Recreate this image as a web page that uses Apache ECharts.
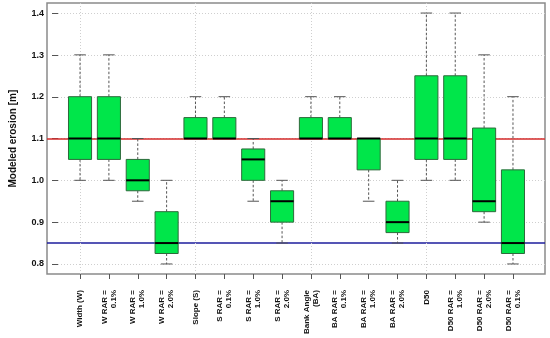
<!DOCTYPE html>
<html>
<head>
<meta charset="utf-8">
<script src="https://cdn.jsdelivr.net/npm/echarts@6/dist/echarts.min.js"></script>
<style>html,body{margin:0;padding:0;background:#fff}#c{width:550px;height:338px}</style>
</head>
<body>
<div id="c"></div>
<script>
const categories = ["Width (W)", "W RAR =\n0.1%", "W RAR =\n1.0%", "W RAR =\n2.0%",
  "Slope (S)", "S RAR =\n0.1%", "S RAR =\n1.0%", "S RAR =\n2.0%",
  "Bank Angle\n(BA)", "BA RAR =\n0.1%", "BA RAR =\n1.0%", "BA RAR =\n2.0%",
  "D50", "D50 RAR =\n1.0%", "D50 RAR =\n2.0%", "D50 RAR =\n0.1%"];
const whiskerLow  = [1.0, 1.0, 0.95, 0.8, 1.1, 1.1, 0.95, 0.85, 1.1, 1.1, 0.95, 0.85, 1.0, 1.0, 0.9, 0.8];
const quartile1   = [1.05, 1.05, 0.975, 0.825, 1.1, 1.1, 1.0, 0.9, 1.1, 1.1, 1.025, 0.875, 1.05, 1.05, 0.925, 0.825];
const medians     = [1.1, 1.1, 1.0, 0.85, 1.1, 1.1, 1.05, 0.95, 1.1, 1.1, 1.1, 0.9, 1.1, 1.1, 0.95, 0.85];
const quartile3   = [1.2, 1.2, 1.05, 0.925, 1.15, 1.15, 1.075, 0.975, 1.15, 1.15, 1.1, 0.95, 1.25, 1.25, 1.125, 1.025];
const whiskerHigh = [1.3, 1.3, 1.1, 1.0, 1.2, 1.2, 1.1, 1.0, 1.2, 1.2, 1.1, 1.0, 1.4, 1.4, 1.3, 1.2];
const redLineValue = 1.1;
const blueLineValue = 0.85;
const gridCategories = ["Width (W)", "Slope (S)", "Bank Angle\n(BA)", "D50"];
const yTickMin = 0.8, yTickMax = 1.4, yTickStep = 0.1;
const yTitle = "Modeled erosion [m]";

const boxData = categories.map((c, i) => [i, whiskerLow[i], quartile1[i], medians[i], quartile3[i], whiskerHigh[i]]);
const pad = (yTickMax - yTickMin) * 0.04;
const yLo = yTickMin - pad, yHi = yTickMax + pad;
const FONT = '"Liberation Sans", Arial, sans-serif';

const chart = echarts.init(document.getElementById('c'), null, {renderer: 'canvas'});
chart.setOption({
  animation: false,
  grid: [
    {left: 47, right: 5, top: 3, bottom: 64, show: true, borderColor: '#8a8a8a', borderWidth: 1.5, backgroundColor: 'transparent'},
    {left: 47, right: 5, top: 13.3, bottom: 74},
    {left: 65.6, right: 22.6, top: 3, bottom: 64}
  ],
  xAxis: [
    {gridIndex: 0, type: 'value', min: 0, max: 1, show: false},
    {gridIndex: 1, type: 'value', min: 0, max: 1, show: false},
    {gridIndex: 2, type: 'category', data: categories,
      axisLine: {show: false},
      axisTick: {show: true, alignWithLabel: true, length: 5, lineStyle: {color: '#555'}},
      axisLabel: {rotate: 90, interval: 0, margin: 16, fontFamily: FONT, fontWeight: 'bold', fontSize: 8, lineHeight: 9, color: '#111'},
      splitLine: {show: false}}
  ],
  yAxis: [
    {gridIndex: 0, type: 'value', min: yLo, max: yHi, show: false},
    {gridIndex: 1, type: 'value', min: yTickMin, max: yTickMax, interval: yTickStep,
      name: yTitle, nameLocation: 'middle', nameRotate: 90, nameGap: 40,
      nameTextStyle: {fontFamily: FONT, fontWeight: 'bold', fontSize: 10, color: '#111'},
      axisLine: {show: false},
      axisTick: {show: true, length: 6, lineStyle: {color: '#555'}},
      axisLabel: {margin: 14, fontFamily: FONT, fontWeight: 'bold', fontSize: 9, color: '#111', formatter: v => v.toFixed(1)},
      splitLine: {show: true, lineStyle: {type: [1, 2], color: '#cfcfcf', width: 1}}},
    {gridIndex: 2, type: 'value', min: yLo, max: yHi, show: false}
  ],
  series: [
    {type: 'line', xAxisIndex: 0, yAxisIndex: 0, data: [], z: 3, silent: true,
      markLine: {symbol: 'none', silent: true, label: {show: false}, animation: false,
        data: [
          {yAxis: redLineValue, lineStyle: {color: '#d42a2a', width: 1.5, type: 'solid'}},
          {yAxis: blueLineValue, lineStyle: {color: '#1c1c9c', width: 1.5, type: 'solid'}}
        ]}},
    {type: 'line', xAxisIndex: 2, yAxisIndex: 2, data: [], z: 1, silent: true,
      markLine: {symbol: 'none', silent: true, label: {show: false}, animation: false,
        lineStyle: {color: '#cfcfcf', width: 1, type: [1, 2]},
        data: gridCategories.map(c => ({xAxis: c}))}},
    {type: 'custom', xAxisIndex: 2, yAxisIndex: 2, z: 5, data: boxData,
      encode: {x: 0, y: [1, 2, 3, 4, 5]},
      renderItem: function (params, api) {
        const x = api.value(0);
        const mn = api.value(1), q1 = api.value(2), md = api.value(3), q3 = api.value(4), mx = api.value(5);
        const pMin = api.coord([x, mn]), pQ1 = api.coord([x, q1]), pMd = api.coord([x, md]), pQ3 = api.coord([x, q3]), pMax = api.coord([x, mx]);
        const bw = api.size([1, 0])[0] * 0.8;
        const cx = pMd[0];
        const capW = bw * 0.5;
        const dash = {stroke: '#555', lineWidth: 1, lineDash: [2.5, 2]};
        const solid = {stroke: '#555', lineWidth: 1};
        return {type: 'group', children: [
          {type: 'line', shape: {x1: cx, y1: pQ3[1], x2: cx, y2: pMax[1]}, style: dash},
          {type: 'line', shape: {x1: cx, y1: pQ1[1], x2: cx, y2: pMin[1]}, style: dash},
          {type: 'line', shape: {x1: cx - capW / 2, y1: pMax[1], x2: cx + capW / 2, y2: pMax[1]}, style: solid},
          {type: 'line', shape: {x1: cx - capW / 2, y1: pMin[1], x2: cx + capW / 2, y2: pMin[1]}, style: solid},
          {type: 'rect', shape: {x: cx - bw / 2, y: pQ3[1], width: bw, height: pQ1[1] - pQ3[1]},
            style: {fill: '#00e64a', stroke: '#2d6b3c', lineWidth: 1}},
          {type: 'line', shape: {x1: cx - bw / 2, y1: pMd[1], x2: cx + bw / 2, y2: pMd[1]}, style: {stroke: '#000', lineWidth: 2}}
        ]};
      }}
  ]
});
</script>
</body>
</html>
